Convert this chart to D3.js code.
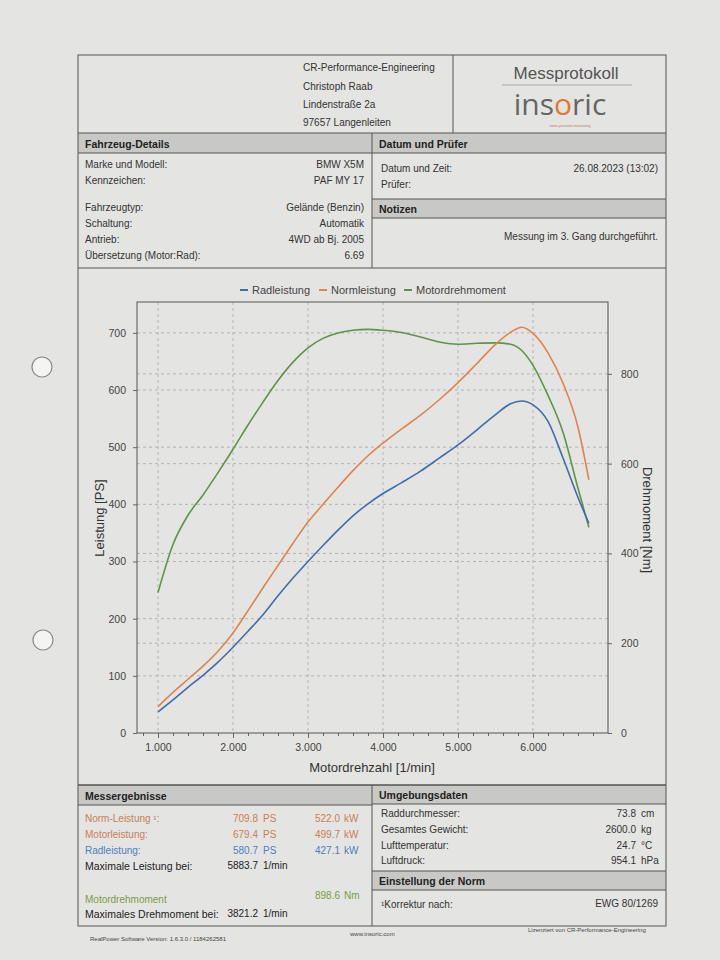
<!DOCTYPE html>
<html><head><meta charset="utf-8">
<script src="https://cdn.jsdelivr.net/npm/d3@7"></script>
<style>
html,body{margin:0;padding:0;background:#e4e4e2;}
svg{display:block;font-family:"Liberation Sans",Arial,sans-serif;}
</style></head>
<body>
<svg id="c" width="720" height="960"></svg>
<script>
// ---------- DATA ----------
const rpm = [1000,1200,1400,1600,1800,2000,2200,2400,2600,2800,3000,3200,3400,3600,3800,4000,4250,4500,4750,5000,5250,5500,5700,5850,6000,6200,6400,6600,6745];
const radleistung = [37,58,80,101,124,150,178,207,240,271,300,328,355,380,401,419,438,458,481,504,530,557,576,580.7,574,545,481,412,367];
const normleistung = [46,71,94,117,143,175,214,254,293,332,369,400,430,459,485,507,532,556,583,613,646,680,701,709.8,699,665,612,535,443];
const motordrehmoment = [313,420,485,530,580,632,686,737,785,826,858,879,891,897,899,897,892,882,871,866,868,869,866,852,819,752,670,545,458];
const seriesNames = ["Radleistung","Normleistung","Motordrehmoment"];
const xTicks = [1000,2000,3000,4000,5000,6000];
const psTicks = [0,100,200,300,400,500,600,700];
const nmTicks = [0,200,400,600,800];

const leftRows = [["Marke und Modell:","BMW X5M"],["Kennzeichen:","PAF MY 17"],["Fahrzeugtyp:","Gelände (Benzin)"],["Schaltung:","Automatik"],["Antrieb:","4WD ab Bj. 2005"],["Übersetzung (Motor:Rad):","6.69"]];
const umgebung = [["Raddurchmesser:","73.8","cm"],["Gesamtes Gewicht:","2600.0","kg"],["Lufttemperatur:","24.7","°C"],["Luftdruck:","954.1","hPa"]];

// ---------- STYLE ----------
const colBlue="#3f6fa6", colOrange="#dd8450", colGreen="#5f9446";
const line="#555", bar="#c8c8c6", txt="#333";

const svg = d3.select("#c");
// punch holes
[[42,367],[43,640]].forEach(p=>svg.append("circle").attr("cx",p[0]).attr("cy",p[1]).attr("r",10)
  .attr("fill","#f4f4f2").attr("stroke","#8a8a88").attr("stroke-width",1.2));

const X0=78,X1=666,Y0=55,Y1=926,XM=372;
const g = svg.append("g");
function hl(y,x0=X0,x1=X1){g.append("line").attr("x1",x0).attr("x2",x1).attr("y1",y).attr("y2",y).attr("stroke",line).attr("stroke-width",1);}
function vl(x,y0,y1){g.append("line").attr("x1",x).attr("x2",x).attr("y1",y0).attr("y2",y1).attr("stroke",line).attr("stroke-width",1);}
function t(x,y,s,o={}){return g.append("text").attr("x",x).attr("y",y).text(s)
  .attr("font-size",o.fs||10).attr("fill",o.c||txt).attr("text-anchor",o.a||"start").attr("font-weight",o.w||"normal");}
function barRect(x0,x1,y0,y1,label){g.append("rect").attr("x",x0).attr("y",y0).attr("width",x1-x0).attr("height",y1-y0).attr("fill",bar);
  hl(y0,x0,x1); hl(y1,x0,x1); t(x0+7,y1-5,label,{w:"bold",fs:10.5,c:"#222"});}

// bars
barRect(X0,XM,133,153,"Fahrzeug-Details");
barRect(XM,X1,133,153,"Datum und Prüfer");
barRect(XM,X1,199,218,"Notizen");
barRect(X0,XM,785,805,"Messergebnisse");
barRect(XM,X1,785,804,"Umgebungsdaten");
barRect(XM,X1,871,890,"Einstellung der Norm");
// frame
g.append("rect").attr("x",X0).attr("y",Y0).attr("width",X1-X0).attr("height",Y1-Y0).attr("fill","none").attr("stroke",line);
vl(453,Y0,133); vl(XM,133,268); vl(XM,785,Y1); hl(268); hl(785);

// header
["CR-Performance-Engineering","Christoph Raab","Lindenstraße 2a","97657 Langenleiten"].forEach((s,i)=>t(303,[71,90,108,126][i],s,{fs:10}));
t(566,79,"Messprotokoll",{fs:17,a:"middle",c:"#555"});
g.append("line").attr("x1",502).attr("x2",632).attr("y1",85).attr("y2",85).attr("stroke","#aaa");
const logo=g.append("text").attr("x",560).attr("y",115).attr("text-anchor","middle").attr("font-size",30).attr("fill","#666")
  .attr("font-family","'Open Sans',sans-serif");
logo.append("tspan").text("ins"); logo.append("tspan").text("o").attr("fill","#e07a30"); logo.append("tspan").text("ric");
t(570,127,"swiss precision measuring",{fs:3.5,a:"middle",c:"#b08060"});

// vehicle details
[168,184,211,227,243,259].forEach((y,i)=>{t(85,y,leftRows[i][0]); t(364,y,leftRows[i][1],{a:"end"});});
t(381,172,"Datum und Zeit:"); t(658,172,"26.08.2023 (13:02)",{a:"end"}); t(381,188,"Prüfer:");
t(658,240,"Messung im 3. Gang durchgeführt.",{a:"end"});

// ---------- CHART ----------
const L=137,R=608,T=302,B=733;
const x=d3.scaleLinear().domain([720,7000]).range([L,R]);
const yL=d3.scaleLinear().domain([0,754]).range([B,T]);
const yR=d3.scaleLinear().domain([0,960]).range([B,T]);

const grid=svg.append("g").attr("stroke","#a8a8a6").attr("stroke-dasharray","3,3").attr("stroke-width",0.8);
xTicks.forEach(v=>grid.append("line").attr("x1",x(v)).attr("x2",x(v)).attr("y1",T).attr("y2",B));
psTicks.filter(v=>v>0).forEach(v=>grid.append("line").attr("x1",L).attr("x2",R).attr("y1",yL(v)).attr("y2",yL(v)));
nmTicks.filter(v=>v>0).forEach(v=>grid.append("line").attr("x1",L).attr("x2",R).attr("y1",yR(v)).attr("y2",yR(v)));

const fmt=d=>d3.format(",")(d).replace(/,/g,".");
const ax=svg.append("g").attr("transform",`translate(0,${B})`)
  .call(d3.axisBottom(x).tickValues(xTicks).tickFormat(fmt).tickSize(5).tickPadding(6));
const axm=svg.append("g").attr("transform",`translate(0,${B})`)
  .call(d3.axisBottom(x).tickValues(d3.range(800,7000,200)).tickFormat("").tickSize(3));
const ayl=svg.append("g").attr("transform",`translate(${L},0)`)
  .call(d3.axisLeft(yL).tickValues(psTicks).tickSize(4).tickPadding(7));
const ayr=svg.append("g").attr("transform",`translate(${R},0)`)
  .call(d3.axisRight(yR).tickValues(nmTicks).tickSize(4).tickPadding(9));
[ax,axm,ayl,ayr].forEach(a=>{a.select(".domain").remove();a.selectAll("line").attr("stroke","#666");
  a.selectAll("text").attr("font-size",10.5).attr("fill","#444").attr("font-family","'Liberation Sans',Arial,sans-serif");});
svg.append("rect").attr("x",L).attr("y",T).attr("width",R-L).attr("height",B-T).attr("fill","none").attr("stroke","#555").attr("stroke-width",1);

const lineL=d3.line().x((d,i)=>x(rpm[i])).y(d=>yL(d)).curve(d3.curveMonotoneX);
const lineR=d3.line().x((d,i)=>x(rpm[i])).y(d=>yR(d)).curve(d3.curveMonotoneX);
svg.append("path").attr("d",lineR(motordrehmoment)).attr("fill","none").attr("stroke",colGreen).attr("stroke-width",1.6);
svg.append("path").attr("d",lineL(normleistung)).attr("fill","none").attr("stroke",colOrange).attr("stroke-width",1.6);
svg.append("path").attr("d",lineL(radleistung)).attr("fill","none").attr("stroke",colBlue).attr("stroke-width",1.6);

// legend
const lg=svg.append("g");
const lx=[240,319,404], lc=[colBlue,colOrange,colGreen];
seriesNames.forEach((n,i)=>{
  lg.append("line").attr("x1",lx[i]).attr("x2",lx[i]+8).attr("y1",290).attr("y2",290).attr("stroke",lc[i]).attr("stroke-width",2);
  lg.append("text").attr("x",lx[i]+12).attr("y",294).text(n).attr("font-size",11).attr("fill","#444");
});
// axis titles
svg.append("text").attr("transform","translate(104,518) rotate(-90)").attr("text-anchor","middle").attr("font-size",13).attr("fill","#333").text("Leistung [PS]");
svg.append("text").attr("transform","translate(643,520) rotate(90)").attr("text-anchor","middle").attr("font-size",13).attr("fill","#333").text("Drehmoment [Nm]");
svg.append("text").attr("x",372).attr("y",772).attr("text-anchor","middle").attr("font-size",13).attr("fill","#333").text("Motordrehzahl [1/min]");

// ---------- RESULTS ----------
const cOr="#c98052", cBl="#4f7fbd", cGr="#7f9a48";
t(85,822,"Norm-Leistung ¹:",{c:cOr}); t(258,822,"709.8",{a:"end",c:cOr}); t(263,822,"PS",{c:cOr}); t(340,822,"522.0",{a:"end",c:cOr}); t(344,822,"kW",{c:cOr});
t(85,838,"Motorleistung:",{c:cOr}); t(258,838,"679.4",{a:"end",c:cOr}); t(263,838,"PS",{c:cOr}); t(340,838,"499.7",{a:"end",c:cOr}); t(344,838,"kW",{c:cOr});
t(85,854,"Radleistung:",{c:cBl}); t(258,854,"580.7",{a:"end",c:cBl}); t(263,854,"PS",{c:cBl}); t(340,854,"427.1",{a:"end",c:cBl}); t(344,854,"kW",{c:cBl});
t(85,870,"Maximale Leistung bei:",{fs:10.5,c:"#222"}); t(258,869,"5883.7",{a:"end",c:"#222"}); t(263,869,"1/min",{c:"#222"});
t(85,903,"Motordrehmoment",{c:cGr}); t(340,899,"898.6",{a:"end",c:cGr}); t(344,899,"Nm",{c:cGr});
t(85,918,"Maximales Drehmoment bei:",{fs:10.5,c:"#222"}); t(258,917,"3821.2",{a:"end",c:"#222"}); t(263,917,"1/min",{c:"#222"});

[817,833,849,864].forEach((y,i)=>{t(381,y,umgebung[i][0]); t(636,y,umgebung[i][1],{a:"end"}); t(641,y,umgebung[i][2]);});
t(381,908,"¹Korrektur nach:"); t(658,907,"EWG 80/1269",{a:"end"});

// footer
t(90,941,"RealPower Software Version: 1.6.3.0 / 1184262581",{fs:6,c:"#444"});
t(350,936,"www.insoric.com",{fs:6,c:"#444"});
t(528,932,"Lizenziert von CR-Performance-Engineering",{fs:6,c:"#444"});
</script>
</body></html>
